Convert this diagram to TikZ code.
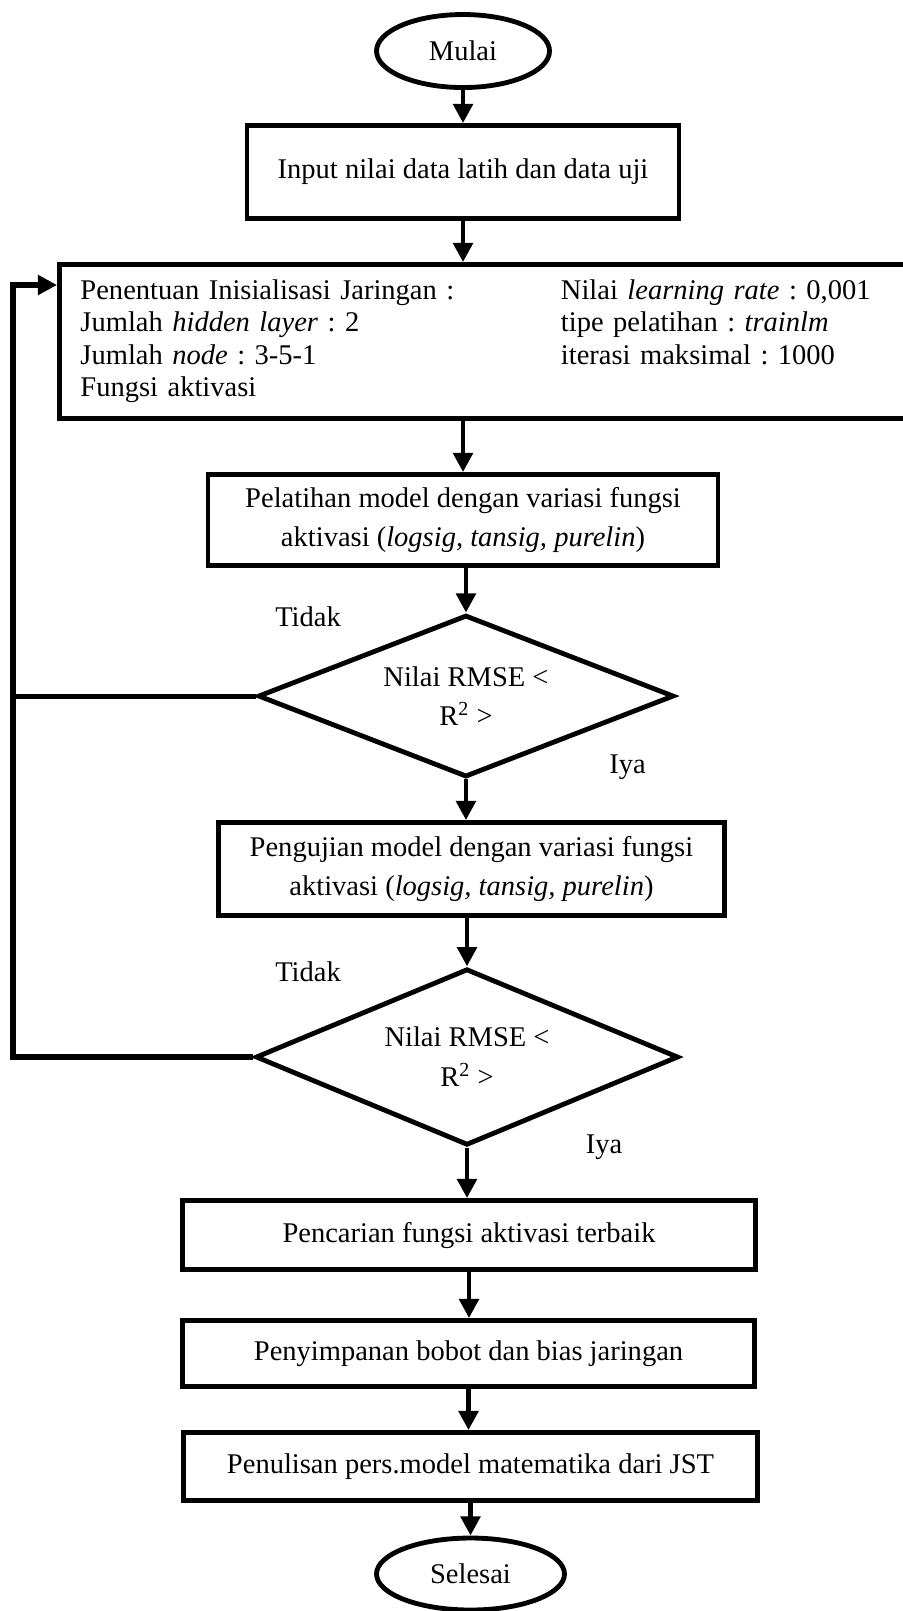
\documentclass[tikz,border=0pt]{standalone}
\usepackage{fontspec}
\setmainfont{Liberation Serif}
\usepackage{tikz}
\usetikzlibrary{arrows.meta,positioning,shapes.geometric}
\frenchspacing

\begin{document}
\begin{tikzpicture}[
                font=\fontsize{11.8}{16.5}\selectfont,
                box/.style={rectangle, draw=black, line width=2pt, align=center, inner sep=2pt},
                term/.style={ellipse, draw=black, line width=2pt, inner sep=0pt},
                decision/.style={diamond, draw=black, line width=2pt, aspect=2.6, inner sep=0pt, align=center},
                lbl/.style={inner sep=0pt},
                arr/.style={-{Triangle[length=8pt,width=8pt]}, line width=2pt},
                line/.style={line width=2.1pt},
            ]
            \useasboundingbox (0,0) rectangle (13.119,-23.430);
            \node[term, minimum width=2.516cm, minimum height=1.062cm] (start) at (6.734,-0.742) {Mulai};
            \node[box, minimum width=6.283cm, minimum height=1.353cm] (input) at (6.734,-2.502) {Input nilai data latih dan data uji};
            \node[box, minimum width=12.443cm, minimum height=2.240cm, text width=11.833cm, inner xsep=0.305cm, align=left, font=\fontsize{11.8}{13.5}\selectfont] (init) at (7.087,-4.967) {%
                \begin{tabular}{@{}p{6.988cm}@{}l@{}}
                Penentuan Inisialisasi Jaringan : & Nilai \textit{learning rate} : 0,001\\
                Jumlah \textit{hidden layer} : 2 & tipe pelatihan : \textit{trainlm}\\
                Jumlah \textit{node} : 3-5-1 & iterasi maksimal : 1000\\
                Fungsi aktivasi &
                \end{tabular}};
            \node[box, minimum width=7.417cm, minimum height=1.323cm] (train) at (6.734,-7.563) {Pelatihan model dengan variasi fungsi\\aktivasi (\textit{logsig, tansig, purelin})};
            \node[decision, minimum width=6.05cm, minimum height=2.356cm] (d1) at (6.777,-10.123) {Nilai RMSE <\\R\textsuperscript{2} >};
            \node[box, minimum width=7.359cm, minimum height=1.353cm] (test) at (6.857,-12.639) {Pengujian model dengan variasi fungsi\\aktivasi (\textit{logsig, tansig, purelin})};
            \node[decision, minimum width=6.15cm, minimum height=2.567cm] (d2) at (6.792,-15.373) {Nilai RMSE <\\R\textsuperscript{2} >};
            \node[box, minimum width=8.334cm, minimum height=1.004cm] (search) at (6.821,-17.962) {Pencarian fungsi aktivasi terbaik};
            \node[box, minimum width=8.319cm, minimum height=0.960cm] (save) at (6.814,-19.685) {Penyimpanan bobot dan bias jaringan};
            \node[box, minimum width=8.348cm, minimum height=0.989cm] (write) at (6.843,-21.329) {Penulisan pers.model matematika dari JST};
            \node[term, minimum width=2.734cm, minimum height=1.047cm] (stop) at (6.843,-22.892) {Selesai};

            \node[lbl] (no1) at (4.480,-8.974) {Tidak};
            \node[lbl] (yes1) at (9.126,-11.155) {Iya};
            \node[lbl] (no2) at (4.480,-14.137) {Tidak};
            \node[lbl] (yes2) at (8.785,-16.682) {Iya};
            \coordinate (back) at (0.189,-4.145);

            \draw[arr] (start) -- (input);
            \draw[arr] (input) -- (input.south |- init.north);
            \draw[arr] (train.north |- init.south) -- (train.north);
            \draw[arr] (d1.north |- train.south) -- (d1.north);
            \draw[arr] (d1.south) -- (d1.south |- test.north);
            \draw[arr] (d2.north |- test.south) -- (d2.north);
            \draw[arr] (d2.south) -- (d2.south |- search.north);
            \draw[arr] (search.south) -- (search.south |- save.north);
            \draw[arr] (save.south) -- (save.south |- write.north);
            \draw[arr] (write) -- (stop);
            \draw[line] (d1.west) -- (d1.west -| back);
            \draw[arr, line width=2.1pt] (d2.west) -| (back) -- (back -| init.west);
        \end{tikzpicture}
\end{document}
